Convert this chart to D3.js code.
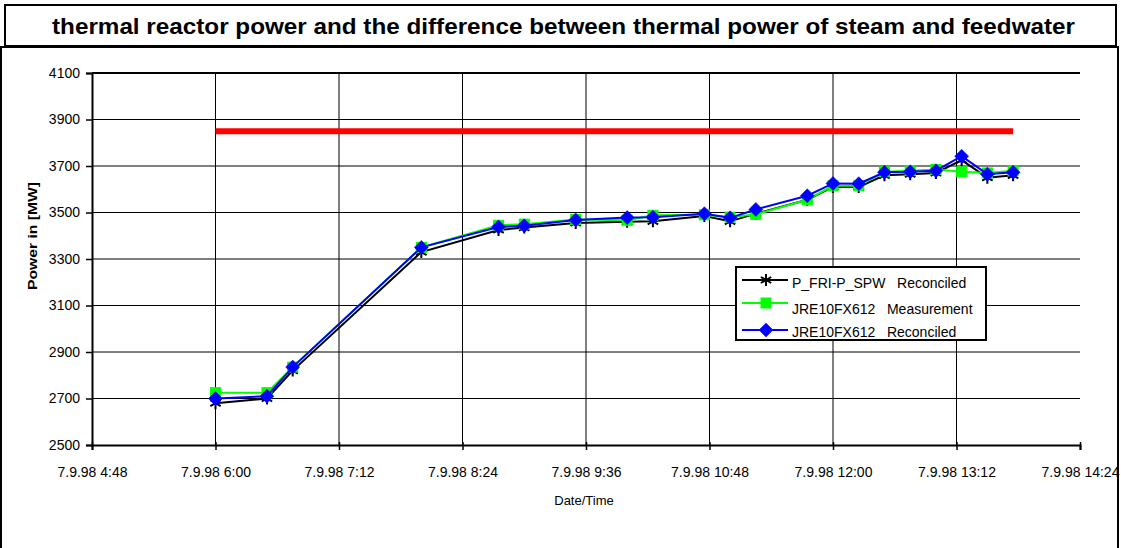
<html>
<head>
<title>thermal reactor power</title>
<style>
  body { margin: 0; background: #fff; }
  text { font-family: "Liberation Sans", Arial, sans-serif; }
</style>
</head>
<body>
<svg id="chart" width="1121" height="548"></svg>
<script src="https://cdnjs.cloudflare.com/ajax/libs/d3/7.8.5/d3.min.js"></script>
<script>
// sample times on 7.9.98 (hh:mm)
var times = ["6:00","6:30","6:45","8:00","8:45","9:00","9:30","10:00","10:15","10:45","11:00",
             "11:15","11:45","12:00","12:15","12:30","12:45","13:00","13:15","13:30","13:45"];
// P_FRI-P_SPW Reconciled
var friSpw = [2680,2700,2820,3330,3425,3435,3455,3460,3462,3485,3462,
              3495,3555,3610,3610,3660,3665,3670,3725,3650,3660];
// JRE10FX612 Measurement
var jreMeas = [2725,2725,2835,3350,3445,3450,3470,3467,3488,3490,3480,
               3492,3555,3615,3615,3675,3680,3685,3675,3670,3680];
// JRE10FX612 Reconciled
var jreRec = [2700,2710,2835,3350,3438,3443,3468,3478,3480,3495,3477,
              3513,3572,3625,3624,3673,3675,3680,3742,3665,3673];
var limitValue = 3850;
var yTicks = [2500,2700,2900,3100,3300,3500,3700,3900,4100];
var seriesNames = ["P_FRI-P_SPW   Reconciled","JRE10FX612   Measurement","JRE10FX612   Reconciled"];

var svg = d3.select("#chart");
var parseT = function(s) { var p = s.split(":"); return new Date(1998, 8, 7, +p[0], +p[1]); };
var dates = times.map(parseT);

var margin = {left: 92, right: 1080, top: 73, bottom: 445};
var x = d3.scaleTime().domain([new Date(1998,8,7,4,48), new Date(1998,8,7,14,24)]).range([margin.left, margin.right]);
var y = d3.scaleLinear().domain([2500,4100]).range([margin.bottom, margin.top]);

var xTicks = d3.range(0, 9).map(function(i) { return new Date(1998,8,7,4,48 + i*72); });
var fmt = d3.timeFormat("%-d.%-m.%y %-H:%M");

// frames
svg.append("rect").attr("x",1).attr("y",47).attr("width",1117).attr("height",520)
  .attr("fill","none").attr("stroke","#000").attr("stroke-width",2);
svg.append("rect").attr("x",5).attr("y",5).attr("width",1111).attr("height",41)
  .attr("fill","#fff").attr("stroke","#000").attr("stroke-width",2);
svg.append("text").attr("x",52).attr("y",34)
  .attr("font-size",22).attr("font-weight","bold")
  .attr("textLength",1023).attr("lengthAdjust","spacingAndGlyphs")
  .text("thermal reactor power and the difference between thermal power of steam and feedwater");

// grid
svg.append("g").selectAll("line").data(yTicks.slice(1)).enter().append("line")
  .attr("x1",margin.left).attr("x2",margin.right)
  .attr("y1",function(d){return y(d);}).attr("y2",function(d){return y(d);})
  .attr("stroke","#000").attr("stroke-width",function(d){return d===4100?2:1;});
svg.append("g").selectAll("line").data(xTicks.slice(1,8)).enter().append("line")
  .attr("x1",function(d){return x(d);}).attr("x2",function(d){return x(d);})
  .attr("y1",margin.top).attr("y2",margin.bottom)
  .attr("stroke","#000").attr("stroke-width",1);

// axes
var yAxis = svg.append("g").attr("transform","translate(" + margin.left + ",0)")
  .call(d3.axisLeft(y).tickValues(yTicks).tickSize(6).tickPadding(6).tickFormat(d3.format("d")));
var xAxis = svg.append("g").attr("transform","translate(0," + margin.bottom + ")")
  .call(d3.axisBottom(x).tickValues(xTicks).tickSize(5).tickPadding(17).tickFormat(fmt));
[yAxis, xAxis].forEach(function(a) {
  a.select(".domain").attr("stroke","#000").attr("stroke-width",2);
  a.selectAll(".tick line").attr("stroke","#000").attr("stroke-width",1.5);
  a.selectAll(".tick text").attr("font-family","Liberation Sans, Arial, sans-serif")
    .attr("font-size",14).attr("fill","#000");
});
xAxis.selectAll(".tick line").attr("y1",-3);

svg.append("text").attr("transform","translate(37,236) rotate(-90)").attr("text-anchor","middle")
  .attr("font-size",13).attr("font-weight","bold")
  .attr("textLength",108).attr("lengthAdjust","spacingAndGlyphs").text("Power in [MW]");
svg.append("text").attr("x",584).attr("y",505).attr("text-anchor","middle")
  .attr("font-size",13).text("Date/Time");

// limit line
svg.append("line").attr("x1",x(dates[0])).attr("x2",x(dates[dates.length-1]))
  .attr("y1",y(limitValue)).attr("y2",y(limitValue))
  .attr("stroke","#ff0000").attr("stroke-width",6);

var line = function(vals) {
  return d3.line().x(function(d,i){return x(dates[i]);}).y(function(d){return y(d);})(vals);
};
var starPath = function(s) {
  var d = s * 0.87, h = s * 0.5;
  return "M0," + (-s) + "L0," + s + "M" + (-d) + "," + (-h) + "L" + d + "," + h + "M" + (-d) + "," + h + "L" + d + "," + (-h);
};

function drawStars(g, cx, cy) {
  g.append("path").attr("transform","translate(" + cx + "," + cy + ")").attr("d", starPath(6))
    .attr("stroke","#000").attr("stroke-width",2).attr("fill","none");
}
function drawSquare(g, cx, cy) {
  g.append("rect").attr("x",cx-5).attr("y",cy-5).attr("width",10).attr("height",10)
    .attr("fill","#00ff00").attr("stroke","#00ff00").attr("stroke-width",1);
}
function drawDiamond(g, cx, cy) {
  g.append("path").attr("transform","translate(" + cx + "," + cy + ")").attr("d","M0,-7L7,0L0,7L-7,0Z")
    .attr("fill","#0000ff").attr("stroke","#0000ff").attr("stroke-width",0.5);
}

var gS = svg.append("g");
gS.append("path").attr("d", line(friSpw)).attr("fill","none").attr("stroke","#000").attr("stroke-width",2);
friSpw.forEach(function(v,i){ drawStars(gS, x(dates[i]), y(v)); });
gS.append("path").attr("d", line(jreMeas)).attr("fill","none").attr("stroke","#00ff00").attr("stroke-width",2);
jreMeas.forEach(function(v,i){ drawSquare(gS, x(dates[i]), y(v)); });
gS.append("path").attr("d", line(jreRec)).attr("fill","none").attr("stroke","#0000ff").attr("stroke-width",2);
jreRec.forEach(function(v,i){ drawDiamond(gS, x(dates[i]), y(v)); });

// legend
var lg = svg.append("g").attr("transform","translate(736,267)");
lg.append("rect").attr("width",250).attr("height",73).attr("fill","#fff")
  .attr("stroke","#000").attr("stroke-width",2);
var drawers = [drawStars, drawSquare, drawDiamond];
var colors = ["#000","#00ff00","#0000ff"];
var rowY = [13, 36, 63];
var textY = [21, 47, 70];
seriesNames.forEach(function(n,i){
  lg.append("line").attr("x1",6).attr("x2",52).attr("y1",rowY[i]).attr("y2",rowY[i])
    .attr("stroke",colors[i]).attr("stroke-width",2);
  drawers[i](lg, 30, rowY[i]);
  lg.append("text").attr("x",56).attr("y",textY[i]).attr("font-size",14).attr("xml:space","preserve").text(n);
});
</script>
</body>
</html>
